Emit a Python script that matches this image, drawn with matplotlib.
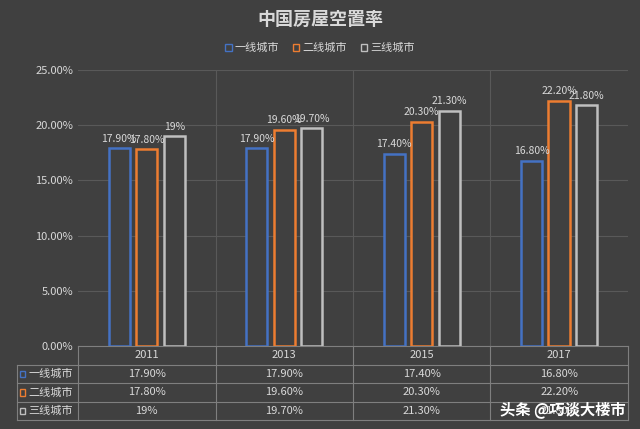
import matplotlib
matplotlib.use("Agg")
import matplotlib.pyplot as plt
from matplotlib.patches import Rectangle
from matplotlib.lines import Line2D
from matplotlib import font_manager

cjk = [f.name for f in font_manager.fontManager.ttflist if "CJK" in f.name]
plt.rcParams["font.family"] = "sans-serif"
plt.rcParams["font.sans-serif"] = ["Noto Sans CJK SC", "Noto Sans CJK JP"] + sorted(set(cjk)) + ["DejaVu Sans"]

years = ["2011", "2013", "2015", "2017"]
series = ["一线城市", "二线城市", "三线城市"]
tier1 = [17.9, 17.9, 17.4, 16.8]
tier2 = [17.8, 19.6, 20.3, 22.2]
tier3 = [19.0, 19.7, 21.3, 21.8]
labels1 = ["17.90%", "17.90%", "17.40%", "16.80%"]
labels2 = ["17.80%", "19.60%", "20.30%", "22.20%"]
labels3 = ["19%", "19.70%", "21.30%", "21.80%"]
yticks = [0, 5, 10, 15, 20, 25]

colors = ["#4472c4", "#ed7d31", "#bfbfbf"]
bg = "#404040"
tc = "#d9d9d9"
gc = "#595959"

fig = plt.figure(figsize=(6.4, 4.29), dpi=100, facecolor=bg)
ax = fig.add_axes([0.122, 0.193, 0.859, 0.644], facecolor=bg)
data = [tier1, tier2, tier3]
labs = [labels1, labels2, labels3]
offs = [-0.2, 0, 0.2]
for s in range(3):
    xs = [i + offs[s] for i in range(4)]
    ax.bar(xs, data[s], width=0.155, facecolor=bg, edgecolor=colors[s], linewidth=1.8, zorder=3)
    for x, v, l in zip(xs, data[s], labs[s]):
        ax.text(x, v + 0.4, l, ha="center", va="bottom", color=tc, fontsize=7.5, zorder=4)

ax.set_xlim(-0.5, 3.5)
ax.set_ylim(0, 25)
ax.set_yticks(yticks)
ax.set_yticklabels([f"{t:.2f}%" for t in yticks], color=tc, fontsize=8)
ax.set_xticks([])
ax.tick_params(axis="y", length=0)
for t in yticks:
    ax.axhline(t, color=gc, lw=0.8, zorder=1)
for b in [0.5, 1.5, 2.5]:
    ax.axvline(b, color=gc, lw=0.8, zorder=1)
for sp in ax.spines.values():
    sp.set_visible(False)

rh = 0.067
tr = ax.get_xaxis_transform()
xl = -0.5 - 61 / 137.5
lc = "#7f7f7f"
for k in range(5):
    y = -rh * k
    x0 = -0.5 if k == 0 else xl
    ax.add_line(Line2D([x0, 3.5], [y, y], transform=tr, color=lc, lw=0.8, clip_on=False))
for b in [-0.5, 0.5, 1.5, 2.5, 3.5]:
    ax.add_line(Line2D([b, b], [0, -4 * rh], transform=tr, color=lc, lw=0.8, clip_on=False))
ax.add_line(Line2D([xl, xl], [-rh, -4 * rh], transform=tr, color=lc, lw=0.8, clip_on=False))
for i, yr in enumerate(years):
    ax.text(i, -0.5 * rh, yr, transform=tr, ha="center", va="center", color=tc, fontsize=8)
for s in range(3):
    yc = -(s + 1.5) * rh
    ax.add_patch(Rectangle((xl + 0.02, yc - 0.012), 0.04, 0.024, transform=tr, facecolor="none",
                           edgecolor=colors[s], lw=1, clip_on=False))
    ax.text(xl + 0.08, yc, series[s], transform=tr, ha="left", va="center", color=tc, fontsize=8)
    for i in range(4):
        ax.text(i, yc, labs[s][i], transform=tr, ha="center", va="center", color=tc, fontsize=8)

fig.text(0.5, 0.955, "中国房屋空置率", ha="center", va="center", color=tc, fontsize=13, fontweight="bold")
handles = [Rectangle((0, 0), 1, 1, facecolor="none", edgecolor=c, lw=1) for c in colors]
fig.legend(handles, series, loc="center", bbox_to_anchor=(0.5, 0.888), ncol=3, frameon=False,
           labelcolor=tc, fontsize=8, handlelength=0.6, handleheight=0.6, handletextpad=0.3, columnspacing=1.2)
fig.text(0.977, 0.045, "头条 @巧谈大楼市", ha="right", va="center", color="white", fontsize=11, fontweight="bold")

fig.savefig("out.png", dpi=100, facecolor=bg)
